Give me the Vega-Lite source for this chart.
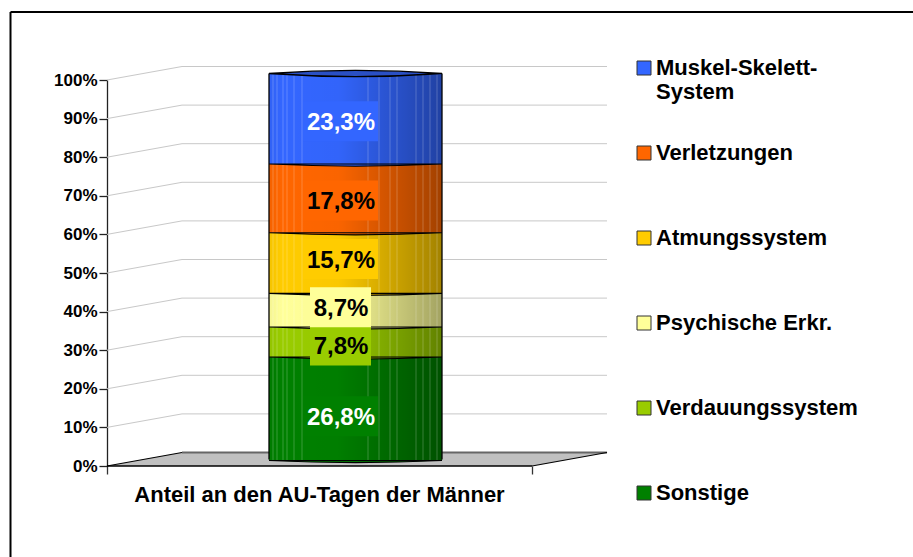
{
"$schema":"https://vega.github.io/schema/vega-lite/v6.json",
"width":500,"height":386,"autosize":"none",
"padding":{"left":107,"top":80,"right":306,"bottom":91},
"background":"white",
"config":{"view":{"stroke":null},"font":"Liberation Sans","axis":{"grid":false,"labelOverlap":false,"labelBound":false,"labelFlush":false}},
"datasets":{
"segments":[
{"series":"Sonstige","order":1,"value":26.8,"label":"26,8%","labelPos":12.9},
{"series":"Verdauungssystem","order":2,"value":7.8,"label":"7,8%","labelPos":31.2},
{"series":"Psychische Erkr.","order":3,"value":8.7,"label":"8,7%","labelPos":41.1},
{"series":"Atmungssystem","order":4,"value":15.7,"label":"15,7%","labelPos":53.6},
{"series":"Verletzungen","order":5,"value":17.8,"label":"17,8%","labelPos":68.8},
{"series":"Muskel-Skelett-System","order":6,"value":23.3,"label":"23,3%","labelPos":89.3}
],
"grid":[{"tick":10},{"tick":20},{"tick":30},{"tick":40},{"tick":50},{"tick":60},{"tick":70},{"tick":80},{"tick":90},{"tick":100}],
"floor":[{"px":0,"top":0,"bottom":0},{"px":75,"top":3.5,"bottom":0},{"px":425,"top":3.5,"bottom":0},{"px":500,"top":3.5,"bottom":3.5}],
"stripes":[{"px":166},{"px":170},{"px":176},{"px":180},{"px":187},{"px":195},{"px":261},{"px":272},{"px":283},{"px":290},{"px":309},{"px":316},{"px":323},{"px":330}],
"one":[{"a":1}]
},
"layer":[
{"data":{"name":"one"},"mark":{"type":"rule","stroke":"black","strokeWidth":2},
 "encoding":{"x":{"datum":-96.5,"type":"quantitative","scale":{"domain":[0,500]},"axis":{"values":[0,425],"labels":false,"domain":false,"ticks":true,"tickSize":8,"tickColor":"#333333","tickWidth":1.3,"grid":false,"title":"Anteil an den AU-Tagen der Männer","titleFont":"Liberation Sans","titleFontWeight":"bold","titleFontSize":22,"titleColor":"black","titleX":212,"titleY":28,"titleBaseline":"middle","titleAlign":"center"}},
 "y":{"datum":-30,"type":"quantitative","scale":{"domain":[0,100]},"axis":{"values":[0,10,20,30,40,50,60,70,80,90,100],"tickCount":11,"labelExpr":"datum.value + '%'","labelFont":"Liberation Sans","labelFontWeight":"bold","labelFontSize":17,"labelColor":"black","labelPadding":2,"labelOverlap":false,"tickSize":8,"tickColor":"#222222","tickWidth":1.3,"domainColor":"#222222","domainWidth":1.3,"grid":false,"title":null}},
 "y2":{"datum":117.6}}},
{"data":{"name":"one"},"mark":{"type":"rule","stroke":"black","strokeWidth":2},
 "encoding":{"x":{"datum":-96.5,"type":"quantitative","scale":{"domain":[0,500]}},"x2":{"datum":810},"y":{"datum":117.6,"type":"quantitative","scale":{"domain":[0,100]}}}},
{"data":{"name":"grid"},"mark":{"type":"rule","stroke":"#c8c8c8","strokeWidth":1,"y2Offset":-13.5},
 "encoding":{"x":{"datum":0,"type":"quantitative","scale":{"domain":[0,500]}},"x2":{"datum":75},"y":{"field":"tick","type":"quantitative","scale":{"domain":[0,100]}},"y2":{"field":"tick"}}},
{"data":{"name":"grid"},"mark":{"type":"rule","stroke":"#c8c8c8","strokeWidth":1,"yOffset":-13.5},
 "encoding":{"x":{"datum":75,"type":"quantitative","scale":{"domain":[0,500]}},"x2":{"datum":500},"y":{"field":"tick","type":"quantitative","scale":{"domain":[0,100]}}}},
{"data":{"name":"floor"},"mark":{"type":"area","fill":"#C0C0C0"},
 "encoding":{"x":{"field":"px","type":"quantitative","scale":{"domain":[0,500]}},"y":{"field":"top","type":"quantitative","scale":{"domain":[0,100]}},"y2":{"field":"bottom"}}},
{"data":{"name":"floor"},"transform":[{"filter":"datum.px>=75"}],"mark":{"type":"line","stroke":"#666666","strokeWidth":2},
 "encoding":{"x":{"field":"px","type":"quantitative","scale":{"domain":[0,500]}},"y":{"field":"top","type":"quantitative","scale":{"domain":[0,100]}}}},
{"data":{"name":"floor"},"transform":[{"filter":"datum.px<=425"}],"mark":{"type":"line","stroke":"black","strokeWidth":1.5},
 "encoding":{"x":{"field":"px","type":"quantitative","scale":{"domain":[0,500]}},"y":{"field":"bottom","type":"quantitative","scale":{"domain":[0,100]}}}},
{"data":{"name":"one"},"mark":{"type":"rule","stroke":"black","strokeWidth":1.2,"y2Offset":-13.5},
 "encoding":{"x":{"datum":0,"type":"quantitative","scale":{"domain":[0,500]}},"x2":{"datum":75},"y":{"datum":0,"type":"quantitative","scale":{"domain":[0,100]}},"y2":{"datum":0}}},
{"data":{"name":"one"},"mark":{"type":"rule","stroke":"black","strokeWidth":1.2,"y2Offset":-13.5},
 "encoding":{"x":{"datum":425,"type":"quantitative","scale":{"domain":[0,500]}},"x2":{"datum":500},"y":{"datum":0,"type":"quantitative","scale":{"domain":[0,100]}},"y2":{"datum":0}}},
{"data":{"name":"segments"},
 "transform":[{"stack":"value","groupby":[],"sort":[{"field":"order","order":"ascending"}],"as":["y0","y1"]}],
 "layer":[
 {"mark":{"type":"rect","yOffset":-5.5,"y2Offset":-5.5},
  "encoding":{"x":{"datum":162,"type":"quantitative","scale":{"domain":[0,500]}},"x2":{"datum":335},
  "y":{"field":"y0","type":"quantitative","scale":{"domain":[0,100]}},"y2":{"field":"y1"},
  "color":{"field":"series","type":"nominal","scale":{"domain":["Muskel-Skelett-System","Verletzungen","Atmungssystem","Psychische Erkr.","Verdauungssystem","Sonstige"],"range":["#3366FF","#FF6600","#FFCC00","#FFFF99","#99CC00","#008000"]},
  "legend":{"orient":"none","legendX":526,"legendY":-23,"title":null,"symbolType":"square","symbolSize":196,"symbolStrokeColor":"#333333","symbolStrokeWidth":1,"labelFont":"Liberation Sans","labelFontWeight":"bold","labelFontSize":22,"labelColor":"black","labelLimit":300,"labelOffset":1,"rowPadding":39,"gridAlign":"all","columns":1,"labelExpr":"datum.label=='Muskel-Skelett-System'?['Muskel-Skelett-','System']:datum.label"}}}},
 {"mark":{"type":"point","filled":true,"shape":"M-1,0Q0,0.05,1,0Z","size":29929,"yOffset":-5.5,"stroke":null,"opacity":1},
  "encoding":{"x":{"datum":248.5,"type":"quantitative","scale":{"domain":[0,500]}},
  "y":{"field":"y0","type":"quantitative","scale":{"domain":[0,100]}},
  "color":{"field":"series","type":"nominal","legend":null,"scale":{"domain":["Muskel-Skelett-System","Verletzungen","Atmungssystem","Psychische Erkr.","Verdauungssystem","Sonstige"],"range":["#3366FF","#FF6600","#FFCC00","#FFFF99","#99CC00","#008000"]}}}}
 ]},
{"data":{"name":"one"},"mark":{"type":"rect","yOffset":-5.5,"y2Offset":-5.5,"fill":{"gradient":"linear","x1":0,"x2":1,"y1":0,"y2":0,"stops":[{"offset":0,"color":"rgba(0,0,0,0.04)"},{"offset":0.08,"color":"rgba(0,0,0,0)"},{"offset":0.4,"color":"rgba(0,0,0,0.02)"},{"offset":1,"color":"rgba(0,0,0,0.36)"}]}},
 "encoding":{"x":{"datum":162,"type":"quantitative","scale":{"domain":[0,500]}},"x2":{"datum":335},"y":{"datum":0,"type":"quantitative","scale":{"domain":[0,100]}},"y2":{"datum":100}}},
{"data":{"name":"stripes"},"mark":{"type":"rule","stroke":"white","strokeOpacity":0.22,"strokeWidth":1,"yOffset":-5.5,"y2Offset":-5.5},
 "encoding":{"x":{"field":"px","type":"quantitative","scale":{"domain":[0,500]}},"y":{"datum":0,"type":"quantitative","scale":{"domain":[0,100]}},"y2":{"datum":100}}},
{"data":{"name":"segments"},
 "transform":[{"stack":"value","groupby":[],"sort":[{"field":"order","order":"ascending"}],"as":["y0","y1"]}],
 "mark":{"type":"point","filled":true,"shape":"M-1,0Q0,0.05,1,0Z","size":29929,"yOffset":-5.5,"stroke":"black","strokeWidth":1.1,"opacity":1,"fill":{"gradient":"linear","x1":0,"x2":1,"y1":0,"y2":0,"stops":[{"offset":0,"color":"rgba(0,0,0,0.04)"},{"offset":0.08,"color":"rgba(0,0,0,0)"},{"offset":0.4,"color":"rgba(0,0,0,0.02)"},{"offset":1,"color":"rgba(0,0,0,0.36)"}]}},
 "encoding":{"x":{"datum":248.5,"type":"quantitative","scale":{"domain":[0,500]}},"y":{"field":"y0","type":"quantitative","scale":{"domain":[0,100]}}}},
{"data":{"name":"one"},"mark":{"type":"rule","stroke":"black","strokeWidth":1.3,"yOffset":-6.5,"y2Offset":-6.5},
 "encoding":{"x":{"datum":162,"type":"quantitative","scale":{"domain":[0,500]}},"y":{"datum":0,"type":"quantitative","scale":{"domain":[0,100]}},"y2":{"datum":100}}},
{"data":{"name":"one"},"mark":{"type":"rule","stroke":"black","strokeWidth":1.3,"yOffset":-6.5,"y2Offset":-6.5},
 "encoding":{"x":{"datum":335,"type":"quantitative","scale":{"domain":[0,500]}},"y":{"datum":0,"type":"quantitative","scale":{"domain":[0,100]}},"y2":{"datum":100}}},
{"data":{"name":"one"},"mark":{"type":"point","filled":true,"shape":"M-1,0Q0,0.07,1,0Q0,-0.07,-1,0Z","size":29929,"yOffset":-6.5,"fill":"#2a50c4","stroke":"black","strokeWidth":1.3,"opacity":1},
 "encoding":{"x":{"datum":248.5,"type":"quantitative","scale":{"domain":[0,500]}},"y":{"datum":100,"type":"quantitative","scale":{"domain":[0,100]}}}},
{"data":{"name":"segments"},"transform":[{"filter":"datum.value>=10"}],"mark":{"type":"rect","yOffset":-20,"y2Offset":20},
 "encoding":{"x":{"datum":196,"type":"quantitative","scale":{"domain":[0,500]}},"x2":{"datum":271},"y":{"field":"labelPos","type":"quantitative","scale":{"domain":[0,100]}},"y2":{"field":"labelPos"},
 "color":{"field":"series","type":"nominal","legend":null,"scale":{"domain":["Muskel-Skelett-System","Verletzungen","Atmungssystem","Psychische Erkr.","Verdauungssystem","Sonstige"],"range":["#3366FF","#FF6600","#FFCC00","#FFFF99","#99CC00","#008000"]}}}},
{"data":{"name":"segments"},"transform":[{"filter":"datum.value<10"}],"mark":{"type":"rect","yOffset":-20,"y2Offset":20},
 "encoding":{"x":{"datum":203,"type":"quantitative","scale":{"domain":[0,500]}},"x2":{"datum":264},"y":{"field":"labelPos","type":"quantitative","scale":{"domain":[0,100]}},"y2":{"field":"labelPos"},
 "color":{"field":"series","type":"nominal","legend":null,"scale":{"domain":["Muskel-Skelett-System","Verletzungen","Atmungssystem","Psychische Erkr.","Verdauungssystem","Sonstige"],"range":["#3366FF","#FF6600","#FFCC00","#FFFF99","#99CC00","#008000"]}}}},
{"data":{"name":"segments"},"mark":{"type":"text","font":"Liberation Sans","fontWeight":"bold","fontSize":24,"align":"center","baseline":"middle","yOffset":1.5},
 "encoding":{"x":{"datum":234,"type":"quantitative","scale":{"domain":[0,500]}},"y":{"field":"labelPos","type":"quantitative","scale":{"domain":[0,100]}},"text":{"field":"label"},
 "color":{"condition":{"test":"datum.order==1||datum.order==6","value":"white"},"value":"black"}}}
]
}
